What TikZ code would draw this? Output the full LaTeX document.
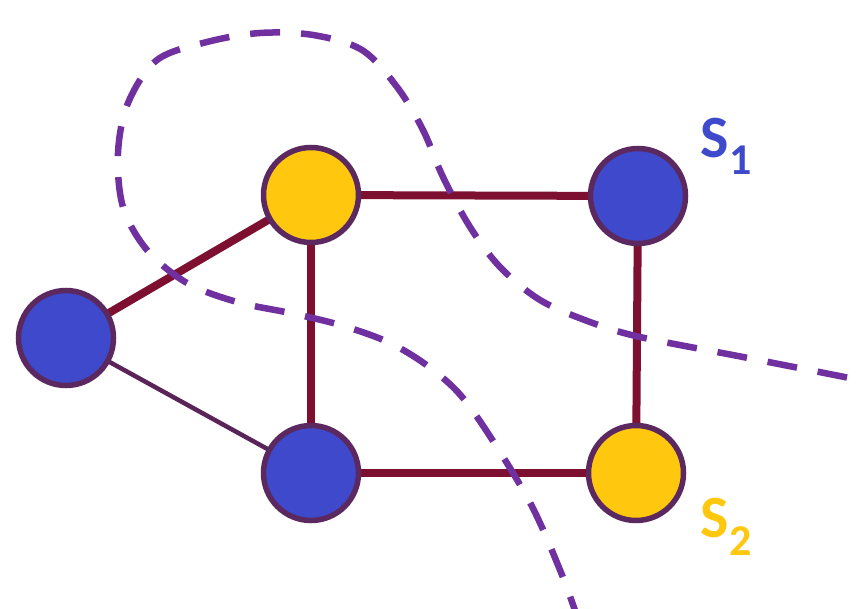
\documentclass[tikz,border=0pt]{standalone}
\usepackage{fontspec}
\setmainfont{Carlito}
\usetikzlibrary{backgrounds}
\definecolor{vblue}{HTML}{3E4ACB}
\definecolor{vyellow}{HTML}{FFC80E}
\definecolor{vrim}{HTML}{5C2860}
\definecolor{edgered}{HTML}{7D1030}
\definecolor{thinedge}{HTML}{5A2458}
\definecolor{cutline}{HTML}{7030A0}
\tikzset{
  vertex/.style={circle, minimum size=95pt, inner sep=0pt, draw=vrim, line width=5.5pt},
  bluev/.style={vertex, fill=vblue},
  yellowv/.style={vertex, fill=vyellow},
  heavy/.style={draw=edgered, line width=8pt},
  light/.style={draw=thinedge, line width=4.5pt},
  cut/.style={draw=cutline, line width=6.5pt, dash pattern=on 30pt off 21pt},
  setlabel/.style={font=\bfseries\fontsize{60}{70}\selectfont, inner sep=0pt, anchor=base west},
  setsub/.style={font=\bfseries\fontsize{44}{50}\selectfont, inner sep=0pt, anchor=base west}
}
\begin{document}
\begin{tikzpicture}[x=1pt, y=-1pt]
  \useasboundingbox (0,0) rectangle (866,609);

  % vertices
  \node[bluev]   (L)  at (66,338)  {};
  \node[yellowv] (TL) at (311,195) {};
  \node[bluev]   (TR) at (638,196) {};
  \node[bluev]   (BL) at (311,473) {};
  \node[yellowv] (BR) at (636,473) {};

  % edges, behind the vertices
  \begin{scope}[on background layer]
    \draw[heavy] (L.center) -- (TL.center);
    \draw[light] (L.center) -- (BL.center);
    \draw[heavy] (TL.center) -- (TR.center);
    \draw[heavy] (TL.center) -- (BL.center);
    \draw[heavy] (TR.center) -- (BR.center);
    \draw[heavy] (BL.center) -- (BR.center);
  \end{scope}

  % the two cuts, drawn as one dashed curve
  \begin{scope}
    \clip (0,0) rectangle (866,609);
    \draw[cut] plot[smooth, tension=0.55] coordinates {
      (580,625) (560,570) (527,497) (470,407) (433,370) (390,343)
      (340,325) (290,313) (237,302) (187,283) (147,250) (123,207)
      (118,153) (128,103) (157,60) (207,42) (260,33) (313,35)
      (362,50) (397,87) (423,130) (443,177) (470,227) (500,267)
      (540,300) (590,322) (640,337) (743,357) (880,384)};
  \end{scope}

  % set labels
  \node[setlabel, text=vblue] (s1) at (700,158) {S};
  \node[setsub, text=vblue] (s1sub) at (729,175) {1};
  \node[setlabel, text=vyellow] (s2) at (700,537) {S};
  \node[setsub, text=vyellow] (s2sub) at (729,555) {2};
\end{tikzpicture}
\end{document}
